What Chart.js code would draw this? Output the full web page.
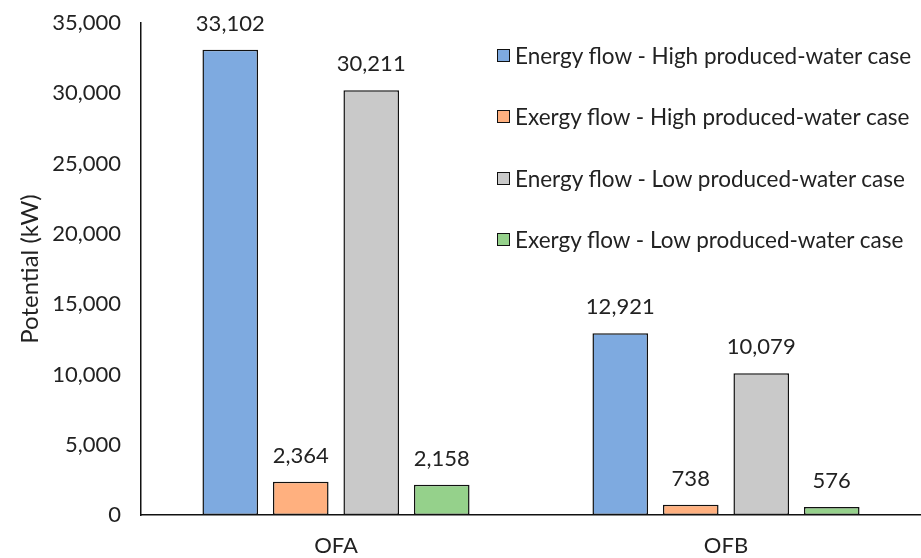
<!DOCTYPE html>
<html>
<head>
<meta charset="utf-8">
<script src="https://cdn.jsdelivr.net/npm/chart.js@4"></script>
<style>
  body { margin: 0; background: #fff; overflow: hidden; }
  #wrap { position: relative; width: 921px; height: 558px; overflow: hidden; }
  #legend { position: absolute; left: 497px; top: 40px; font-family: Lato, sans-serif; font-size: 22.5px; color: #222; white-space: nowrap; }
  #legend .item { display: flex; align-items: center; height: 30px; margin-bottom: 31.6px; }
  #legend .box { width: 11px; height: 11px; border: 1.5px solid #111; margin-right: 5px; flex: none; }
</style>
</head>
<body>
<div id="wrap">
  <canvas id="chart" width="921" height="558"></canvas>
  <div id="legend"></div>
</div>
<script>
const categories = ['OFA', 'OFB'];
const seriesNames = [
    'Energy flow - High produced-water case',
    'Exergy flow - High produced-water case',
    'Energy flow - Low produced-water case',
    'Exergy flow - Low produced-water case'
];
const energyHigh = [33102, 12921];
const exergyHigh = [2364, 738];
const energyLow = [30211, 10079];
const exergyLow = [2158, 576];
const seriesColors = ['#7EAAE0', '#FFB07F', '#C9C9C9', '#95D18B'];

const textColor = '#222';
const fontFamily = 'Lato, sans-serif';

// draws the numbers above each bar
const valueLabels = {
    id: 'valueLabels',
    afterDatasetsDraw(chart) {
        const ctx = chart.ctx;
        ctx.save();
        ctx.font = '22px ' + fontFamily;
        ctx.fillStyle = textColor;
        ctx.textAlign = 'center';
        ctx.textBaseline = 'middle';
        chart.data.datasets.forEach((ds, i) => {
            chart.getDatasetMeta(i).data.forEach((bar, j) => {
                ctx.fillText(ds.data[j].toLocaleString('en-US'), bar.x, bar.y - 26);
            });
        });
        ctx.restore();
    }
};

const seriesData = [energyHigh, exergyHigh, energyLow, exergyLow];

const chart = new Chart(document.getElementById('chart').getContext('2d'), {
    type: 'bar',
    data: {
        labels: categories,
        datasets: seriesNames.map((name, i) => ({
            label: name,
            data: seriesData[i],
            backgroundColor: seriesColors[i],
            borderColor: '#111',
            borderWidth: 1.5,
            borderSkipped: false,
            barPercentage: 0.789,
            categoryPercentage: 0.723
        }))
    },
    options: {
        responsive: false,
        animation: false,
        layout: { padding: { top: 23, right: -6, bottom: 0, left: 0 } },
        plugins: {
            legend: { display: false },
            tooltip: { enabled: false }
        },
        scales: {
            x: {
                grid: { display: false, drawTicks: false },
                border: { display: true, color: '#111', width: 1.5 },
                ticks: { color: textColor, font: { family: fontFamily, size: 22 }, padding: 18 },
                afterFit(scale) { scale.height = 43; }
            },
            y: {
                min: 0,
                max: 35000,
                grid: { display: false, drawTicks: false },
                border: { display: true, color: '#111', width: 1.5 },
                ticks: { stepSize: 5000, color: textColor, font: { family: fontFamily, size: 22 }, padding: 20 },
                title: {
                    display: true,
                    text: 'Potential (kW)',
                    color: textColor,
                    font: { family: fontFamily, size: 24 },
                    padding: { top: 16, bottom: 4 }
                },
                afterFit(scale) {
                    scale.width = 141;
                    scale.paddingTop = 0;
                    scale.paddingBottom = 0;
                }
            }
        }
    },
    plugins: [valueLabels]
});

const legendEl = document.getElementById('legend');
chart.data.datasets.forEach(ds => {
    const item = document.createElement('div');
    item.className = 'item';
    item.innerHTML = `<span class="box" style="background:${ds.backgroundColor}"></span><span>${ds.label}</span>`;
    legendEl.appendChild(item);
});
</script>
</body>
</html>
